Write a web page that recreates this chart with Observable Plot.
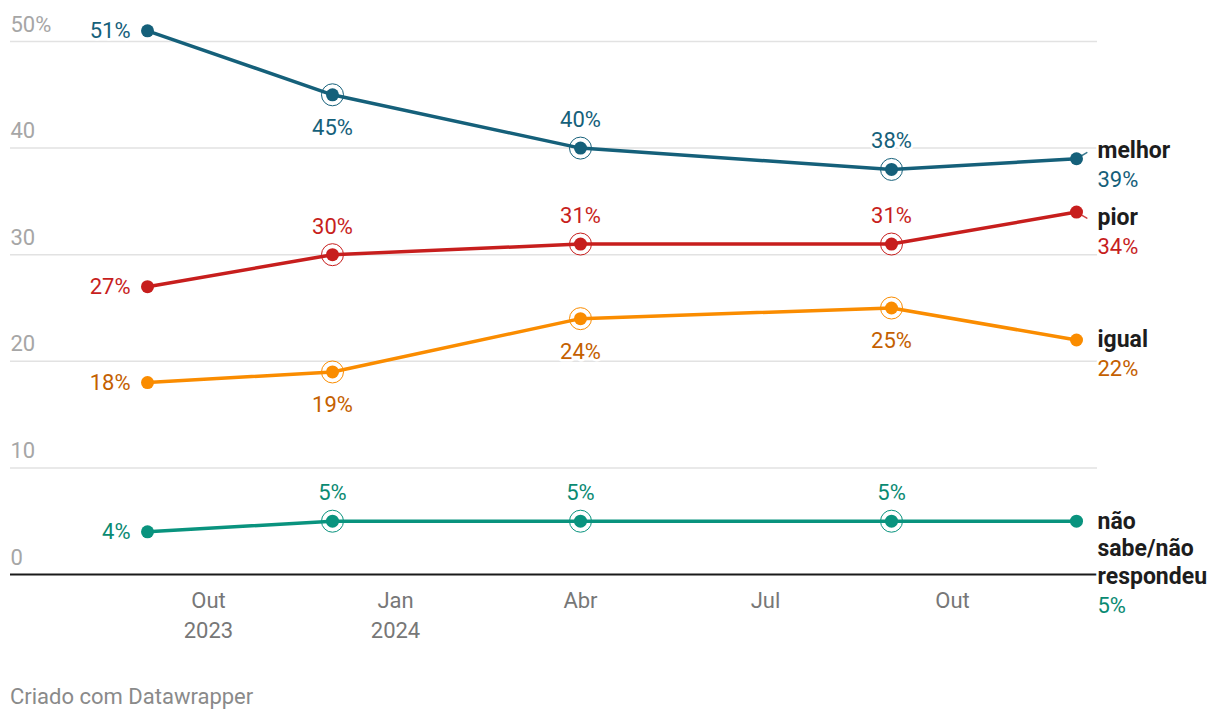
<!DOCTYPE html>
<html><head><meta charset="utf-8">
<script src="https://cdn.jsdelivr.net/npm/d3@7"></script>
<script src="https://cdn.jsdelivr.net/npm/@observablehq/plot@0.6"></script>
<style>
body{margin:0;background:#fff;font-family:Roboto,sans-serif;}
#wrap{position:relative;width:1220px;height:722px;overflow:hidden;}
#footer{position:absolute;left:10px;top:684px;font-size:22px;color:#8a8a8a;font-family:Roboto,sans-serif;}
</style></head><body>
<div id="wrap"><div id="chart"></div><div id="footer">Criado com Datawrapper</div></div>
<script>
// ---- data ----
const dates = ["2023-09-01", "2023-12-01", "2024-04-01", "2024-09-01", "2024-12-01"];
const seriesNames = ["melhor", "pior", "igual", "não sabe/não respondeu"];
const melhor = [51, 45, 40, 38, 39];
const pior = [27, 30, 31, 31, 34];
const igual = [18, 19, 24, 25, 22];
const naoSabe = [4, 5, 5, 5, 5];
const yTicks = [0, 10, 20, 30, 40, 50];
const xTicks = ["2023-10-01", "2024-01-01", "2024-04-01", "2024-07-01", "2024-10-01"];
const monthNames = ["Jan","Fev","Mar","Abr","Mai","Jun","Jul","Ago","Set","Out","Nov","Dez"];

// ---- styling / layout config ----
const lineColors = ["#15607a", "#c71e1d", "#fa8c00", "#09937e"];
const textColors = ["#15607a", "#c71e1d", "#c46000", "#0a8a72"];
const nameLines = ["melhor", "pior", "igual", "não\nsabe/não\nrespondeu"];
const placement = [
  ["left", "below", "above", "above"],
  ["left", "above", "above", "above"],
  ["left", "below", "below", "below"],
  ["left", "above", "above", "above"]
];
const endOffset = [-6.5, 6.5, 0.5, 1.5];
const FS = 22, NFS = 23, LH = 27.5;

const values = [melhor, pior, igual, naoSabe];
const parse = d3.utcParse("%Y-%m-%d");
const data = [];
values.forEach((vals, s) => vals.forEach((v, i) => data.push({
  s, series: seriesNames[s], date: parse(dates[i]), v, i, pos: i < 4 ? placement[s][i] : "end"
})));
const last = data.filter(d => d.i === dates.length - 1);
const col = d => lineColors[d.s];
const tcol = d => textColors[d.s];
const pct = d => d.v + "%";

const halo = {stroke: "white", strokeWidth: 5, paintOrder: "stroke"};
const tick = {draw(context, l) { context.moveTo(0, 0); context.lineTo(0, -l); }};
const shifted = last.filter(d => Math.abs(endOffset[d.s]) > 3);

const chart = Plot.plot({
  width: 1220, height: 650,
  marginLeft: 10, marginRight: 123, marginTop: 41, marginBottom: 76,
  style: {fontFamily: "Roboto, sans-serif", fontSize: FS + "px", background: "white", overflow: "visible"},
  x: {type: "utc", domain: [parse(dates[0]), parse(dates[dates.length - 1])], range: [147, 1076], axis: null},
  y: {domain: [0, 50], range: [574, 41], axis: null},
  marks: [
    Plot.ruleY(yTicks.filter(d => d > 0), {stroke: "#e2e2e2", strokeWidth: 1.5}),
    Plot.text(yTicks, {y: d => d, text: d => d === 50 ? "50%" : String(d), frameAnchor: "left", textAnchor: "start", dy: -17, fill: "#a6a6a6", fontSize: FS}),
    Plot.text(xTicks.map(parse), {x: d => d, text: d => { const m = monthNames[d.getUTCMonth()]; return d.getUTCMonth() === 0 || d.getUTCFullYear() === 2023 ? m + "\n" + d.getUTCFullYear() : m; },
      frameAnchor: "bottom", lineAnchor: "top", dy: 12, lineHeight: 30 / FS, fill: "#777", fontSize: FS}),
    Plot.ruleY([0], {stroke: "#1a1a1a", strokeWidth: 2}),
    Plot.line(data, {x: "date", y: "v", z: "series", stroke: col, strokeWidth: 3.5, curve: "linear"}),
    Plot.vector(shifted, {x: "date", y: "v", length: 12, rotate: d => Math.atan2(11, -endOffset[d.s]) * 180 / Math.PI,
      anchor: "start", shape: tick, stroke: col, strokeWidth: 1.5, strokeOpacity: 0.85}),
    Plot.dot(data.filter(d => d.i > 0 && d.i < dates.length - 1), {x: "date", y: "v", r: 11, stroke: col, strokeWidth: 1, fill: "none"}),
    Plot.dot(data, {x: "date", y: "v", r: 6.5, fill: col, stroke: "none"}),
    Plot.text(data.filter(d => d.pos === "left"), {x: "date", y: "v", text: pct, fill: tcol, textAnchor: "end", dx: -17, fontSize: FS, ...halo}),
    Plot.text(data.filter(d => d.pos === "above"), {x: "date", y: "v", text: pct, fill: tcol, dy: -28, fontSize: FS, ...halo}),
    Plot.text(data.filter(d => d.pos === "below"), {x: "date", y: "v", text: pct, fill: tcol, dy: 33, fontSize: FS, ...halo}),
    // end labels: name + value
    ...last.map(d => Plot.text([d], {x: "date", y: "v", text: () => nameLines[d.s], fill: "#1d1d1d", fontWeight: "bold", fontSize: NFS,
      textAnchor: "start", lineAnchor: "top", lineHeight: LH / NFS, dx: 21, dy: endOffset[d.s] - 13.5, ...halo})),
    ...last.map(d => Plot.text([d], {x: "date", y: "v", text: pct, fill: tcol, fontSize: FS,
      textAnchor: "start", lineAnchor: "top", dx: 21, dy: endOffset[d.s] - 8 + nameLines[d.s].split("\n").length * LH, ...halo}))
  ]
});
document.getElementById("chart").appendChild(chart);
</script>
</body></html>
